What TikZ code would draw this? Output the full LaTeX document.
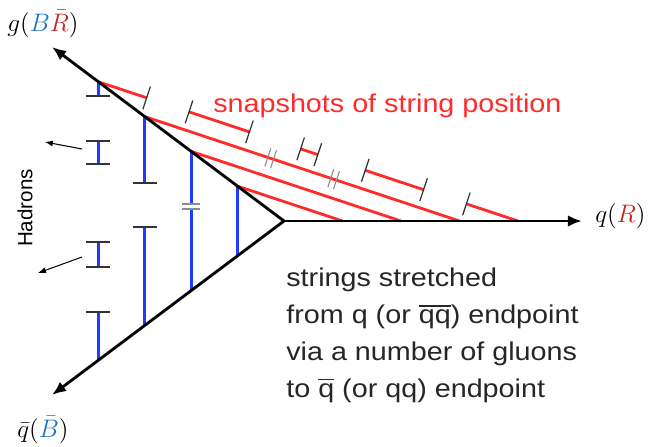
\documentclass[tikz,border=0pt]{standalone}
\usepackage{amsmath}
\usepackage{fontspec}
\usetikzlibrary{arrows.meta, calc}
\newfontfamily\notefont[FakeStretch=1.12]{Liberation Sans}
\newfontfamily\plainsans{Liberation Sans}
\newcommand{\bartxt}[1]{$\overline{\hbox{#1}}$}
\definecolor{sred}{HTML}{FF2B2B}
\definecolor{sblue}{HTML}{1F3DFF}
\definecolor{labblue}{HTML}{1A73C9}
\definecolor{labred}{HTML}{C8261A}
\tikzset{
  >=Latex,
  axisline/.style={line width=1.6pt, draw=black, -{Latex[length=8pt,width=6.5pt]}},
  stringline/.style={line width=1.6pt, draw=sred},
  bluebar/.style={line width=1.6pt, draw=sblue},
  endtick/.style={line width=0.7pt, draw=black!80},
  breakmark/.style={line width=0.6pt, draw=black!45},
  hadarr/.style={line width=0.6pt, -{Latex[length=4.5pt,width=3.5pt]}},
  lab/.style={inner sep=0pt, anchor=base west, font=\fontsize{14.8}{18}\selectfont},
  note/.style={inner sep=0pt, anchor=base west, align=left,
    font=\fontsize{14.6}{21}\notefont}
}

\begin{document}
\begin{tikzpicture}[x=0.02cm, y=-0.02cm]
  \useasboundingbox (0,0) rectangle (654,447);
  % vertex and arrow ends
  \coordinate (V) at (284,221);
  \coordinate (Gtip) at (52,47);
  \coordinate (Qtip) at (52,395);
  \coordinate (Rtip) at (582,221);
  \coordinate (g1) at ($(V)!0.2!(Gtip)$);
  \coordinate (g2) at ($(V)!0.4!(Gtip)$);
  \coordinate (g3) at ($(V)!0.6!(Gtip)$);
  \coordinate (g4) at ($(V)!0.8!(Gtip)$);
  \coordinate (a1) at ($(V)!0.2!(Qtip)$);
  \coordinate (a2) at ($(V)!0.4!(Qtip)$);
  \coordinate (a3) at ($(V)!0.6!(Qtip)$);
  \coordinate (a4) at ($(V)!0.8!(Qtip)$);
  \coordinate (e1) at ($(V)+(58.5,0)$);
  \coordinate (e2) at ($(V)+(117,0)$);
  \coordinate (e3) at ($(V)+(175.5,0)$);
  \coordinate (e4) at ($(V)+(234,0)$);

  % string snapshots
  \coordinate (p1) at ($(g4)!0.115!(e4)$);
  \coordinate (p2) at ($(g4)!0.216!(e4)$);
  \coordinate (p3) at ($(g4)!0.36!(e4)$);
  \coordinate (p4) at ($(g4)!0.482!(e4)$);
  \coordinate (p5) at ($(g4)!0.523!(e4)$);
  \coordinate (p6) at ($(g4)!0.636!(e4)$);
  \coordinate (p7) at ($(g4)!0.775!(e4)$);
  \coordinate (p8) at ($(g4)!0.877!(e4)$);
  \draw[stringline] (g4) -- (p1) (p2) -- (p3) (p4) -- (p5) (p6) -- (p7) (p8) -- (e4);
  \draw[endtick] ($(p1)!0.24cm!90:(e4)$) -- ($(p1)!0.24cm!-90:(e4)$);
  \draw[endtick] ($(p2)!0.24cm!90:(e4)$) -- ($(p2)!0.24cm!-90:(e4)$);
  \draw[endtick] ($(p3)!0.24cm!90:(e4)$) -- ($(p3)!0.24cm!-90:(e4)$);
  \draw[endtick] ($(p4)!0.24cm!90:(e4)$) -- ($(p4)!0.24cm!-90:(e4)$);
  \draw[endtick] ($(p5)!0.24cm!90:(e4)$) -- ($(p5)!0.24cm!-90:(e4)$);
  \draw[endtick] ($(p6)!0.24cm!90:(e4)$) -- ($(p6)!0.24cm!-90:(e4)$);
  \draw[endtick] ($(p7)!0.24cm!90:(e4)$) -- ($(p7)!0.24cm!-90:(e4)$);
  \draw[endtick] ($(p8)!0.24cm!90:(e4)$) -- ($(p8)!0.24cm!-90:(e4)$);
  \draw[stringline] (g3) -- (e3);
  \draw[stringline] (g2) -- (e2);
  \draw[stringline] (g1) -- (e1);
  \coordinate (m1) at ($(g3)!0.4!(e3)$);
  \coordinate (m2) at ($(g3)!0.6!(e3)$);
  \draw[breakmark] ($(m1)!0.06cm!(e3)$) +(-3,9) -- +(3,-9);
  \draw[breakmark] ($(m1)!-0.06cm!(e3)$) +(-3,9) -- +(3,-9);
  \draw[breakmark] ($(m2)!0.06cm!(e3)$) +(-3,9) -- +(3,-9);
  \draw[breakmark] ($(m2)!-0.06cm!(e3)$) +(-3,9) -- +(3,-9);

  % gluon string pieces
  \draw[bluebar] (g4) -- (g4 |- 0,96) (g4 |- 0,141) -- (g4 |- 0,164)
    (g4 |- 0,242) -- (g4 |- 0,267) (g4 |- 0,312) -- (a4);
  \draw[endtick] (g4 |- 0,96) +(-12,0) -- +(12,0);
  \draw[endtick] (g4 |- 0,141) +(-12,0) -- +(12,0);
  \draw[endtick] (g4 |- 0,164) +(-12,0) -- +(12,0);
  \draw[endtick] (g4 |- 0,242) +(-12,0) -- +(12,0);
  \draw[endtick] (g4 |- 0,267) +(-12,0) -- +(12,0);
  \draw[endtick] (g4 |- 0,312) +(-12,0) -- +(12,0);
  \draw[bluebar] (g3) -- (g3 |- 0,183) (g3 |- 0,227) -- (a3);
  \draw[endtick] (g3 |- 0,183) +(-12,0) -- +(12,0);
  \draw[endtick] (g3 |- 0,227) +(-12,0) -- +(12,0);
  \draw[bluebar] (g2) -- (a2);
  \fill[white] ($(g2 |- 0,204)+(-2,0)$) rectangle ($(g2 |- 0,209)+(2,0)$);
  \draw[breakmark] (g2 |- 0,204) +(-9,0) -- +(9,0);
  \draw[breakmark] (g2 |- 0,209) +(-9,0) -- +(9,0);
  \draw[bluebar] (g1) -- (a1);

  % axes
  \draw[axisline] (V) -- (Gtip);
  \draw[axisline] (V) -- (Qtip);
  \draw[axisline] (V) -- (Rtip);

  % hadrons
  \coordinate (h1a) at (82,149);
  \coordinate (h1b) at (45,142);
  \coordinate (h2a) at (82,257);
  \coordinate (h2b) at (38,273);
  \draw[hadarr] (h1a) -- (h1b);
  \draw[hadarr] (h2a) -- (h2b);
  \node[rotate=90, inner sep=0pt, font=\fontsize{11.7}{14}\plainsans] (hadr) at (25,208) {Hadrons};

  % labels
  \node[lab] (glab) at (7,31) {$g(\textcolor{labblue}{B}\textcolor{labred}{\bar R})$};
  \node[lab] (qlab) at (595,222) {$q(\textcolor{labred}{R})$};
  \node[lab] (qbarlab) at (17,437) {$\bar q(\textcolor{labblue}{\bar B})$};
  \node[note, text=sred] (snap) at (213,112) {snapshots of string position};
  \node[note, anchor=north west, text=black!85] (desc) at (286,267.5)
    {strings stretched\\from q (or \bartxt{qq}) endpoint\\via a number of gluons\\to \bartxt{q} (or qq) endpoint};
\end{tikzpicture}
\end{document}
